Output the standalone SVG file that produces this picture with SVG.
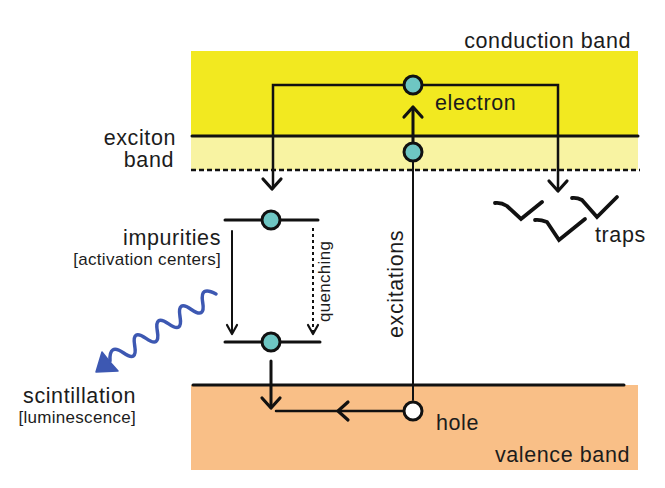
<svg xmlns="http://www.w3.org/2000/svg" width="665" height="488" viewBox="0 0 665 488">
<style>
.t{font-family:"Liberation Sans",Arial,sans-serif;font-size:21.5px;letter-spacing:0.6px;fill:#1c1c1c}
.s{font-family:"Liberation Sans",Arial,sans-serif;font-size:17px;letter-spacing:0.3px;fill:#1c1c1c}
.ln{stroke:#111;fill:none;stroke-linecap:round}
.ah{stroke:#111;fill:none;stroke-width:3.2;stroke-linecap:round;stroke-linejoin:round}
.ahs{stroke:#111;fill:none;stroke-width:2.2;stroke-linecap:round;stroke-linejoin:round}
.tr{stroke:#111;fill:none;stroke-width:3.8;stroke-linecap:round;stroke-linejoin:miter}
.dot{fill:#6ec6c3;stroke:#111;stroke-width:3}
</style>
<defs>
<path id="arr" d="M-9,-10 L0,0 L9,-10"/>
<path id="arrs" d="M-5,-9 L0,0 L5,-9"/>
</defs>
<g id="bands">
<rect x="191" y="51" width="447" height="85" fill="#f2e920"/>
<rect x="191" y="136" width="447" height="34" fill="#f8f3a2"/>
<rect x="191" y="385" width="447" height="85" fill="#f9bf87"/>
<line class="ln" x1="192" y1="136" x2="638" y2="136" stroke-width="3"/>
<line x1="191" y1="170" x2="640" y2="170" stroke="#111" stroke-width="2.5" stroke-dasharray="5,3"/>
<line class="ln" x1="193" y1="385" x2="624" y2="385" stroke-width="3"/>
<text class="t" x="631" y="48" text-anchor="end">conduction band</text>
<text class="t" x="176" y="145" text-anchor="end">exciton</text>
<text class="t" x="174" y="167" text-anchor="end">band</text>
<text class="t" x="630" y="462" text-anchor="end">valence band</text>
</g>
<g id="connectors">
<polyline class="ln" points="273,188 273,85 558,85 558,190" stroke-width="2.5"/>
<use href="#arr" class="ah" transform="translate(272,189)"/>
<use href="#arr" class="ah" transform="translate(558,191)"/>
<line class="ln" x1="413" y1="142" x2="413" y2="108" stroke-width="3"/>
<use href="#arr" class="ah" transform="translate(413,107) rotate(180)"/>
<line class="ln" x1="413" y1="162" x2="413" y2="400" stroke-width="2"/>
<line class="ln" x1="232" y1="231" x2="232" y2="333" stroke-width="2"/>
<use href="#arrs" class="ahs" transform="translate(232,334)"/>
<line x1="313" y1="228" x2="313" y2="332" stroke="#111" stroke-width="2" stroke-dasharray="3,3"/>
<use href="#arrs" class="ahs" transform="translate(313,334)"/>
<line class="ln" x1="271" y1="361" x2="271" y2="406" stroke-width="3"/>
<use href="#arr" class="ah" transform="translate(271,408)"/>
<line class="ln" x1="276" y1="411" x2="403" y2="411" stroke-width="2.5"/>
<use href="#arr" class="ah" transform="translate(338,411) rotate(90)"/>
<path d="M216,294 Q199.7,285.1 202.67,302.22 T191.33,309.44 T180,316.67 T168.67,323.89 T157.33,331.11 T146,338.33 T134.67,345.56 T123.33,352.78 T110,361" fill="none" stroke="#3d58b2" stroke-width="3.5" stroke-linecap="round"/>
<polygon points="96,372 102,352 110,362 118,371" fill="#3d58b2" stroke="#3d58b2" stroke-width="1.5" stroke-linejoin="round"/>
</g>
<g id="electron">
<circle class="dot" cx="413" cy="85" r="9"/>
<text class="t" x="435" y="110">electron</text>
</g>
<g id="exciton">
<circle class="dot" cx="413" cy="152" r="9"/>
</g>
<g id="hole">
<circle cx="413" cy="411" r="9" fill="#fff" stroke="#111" stroke-width="3"/>
<text class="t" x="436" y="430">hole</text>
</g>
<g id="impurity-upper">
<line class="ln" x1="225" y1="220" x2="318" y2="220" stroke-width="3"/>
<circle class="dot" cx="271" cy="220" r="9"/>
</g>
<g id="impurity-lower">
<line class="ln" x1="225" y1="342" x2="320" y2="342" stroke-width="3"/>
<circle class="dot" cx="271" cy="342" r="9"/>
</g>
<g id="impurities-label">
<text class="t" x="221" y="245" text-anchor="end">impurities</text>
<text class="s" x="221" y="265" text-anchor="end">[activation centers]</text>
</g>
<g id="scintillation-label">
<text class="t" x="136" y="403" text-anchor="end">scintillation</text>
<text class="s" x="136" y="423" text-anchor="end">[luminescence]</text>
</g>
<g id="excitations-label">
<text class="t" transform="translate(403,338) rotate(-90)">excitations</text>
</g>
<g id="quenching-label">
<text class="s" transform="translate(330,322) rotate(-90)">quenching</text>
</g>
<g id="traps">
<path class="tr" d="M495,203 C499,202.5 503,203.5 507,206 L521,219 L542,202"/>
<path class="tr" d="M535,220 C539,219.5 543,220.5 547,222 L559,240 L585,219"/>
<path class="tr" d="M572,198 C576,197.5 579,198.5 582,200 L597,217 L617,197"/>
<text class="t" x="595" y="242">traps</text>
</g>
</svg>
